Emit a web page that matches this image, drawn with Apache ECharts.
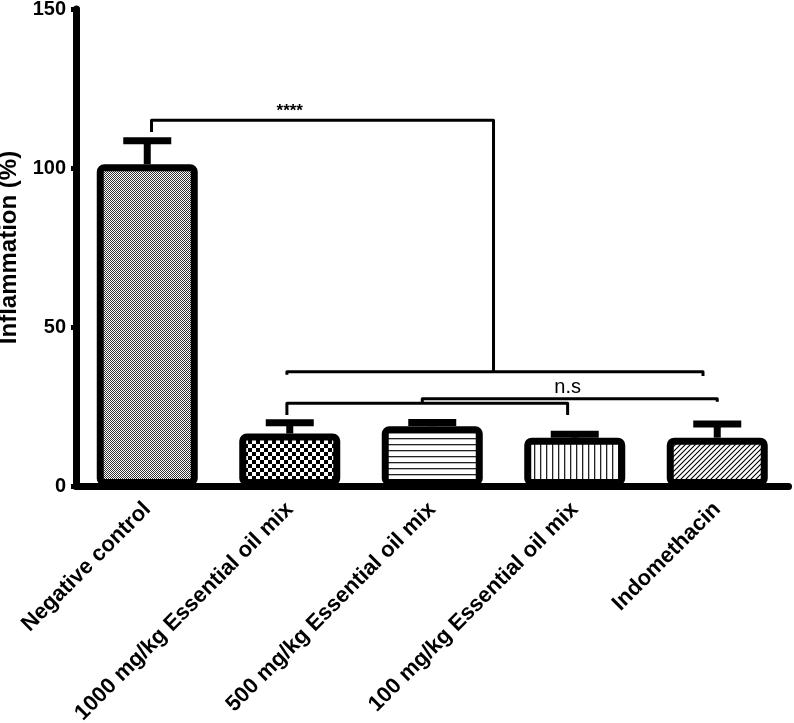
<!DOCTYPE html>
<html><head><meta charset="utf-8">
<script src="https://cdn.jsdelivr.net/npm/echarts@6/dist/echarts.min.js"></script>
<style>html,body{margin:0;padding:0;background:#fff}#c{width:794px;height:723px}</style>
</head><body><div id="c"></div>
<script>
// ---- data ----
const categories = ['Negative control', '1000 mg/kg Essential oil mix', '500 mg/kg Essential oil mix', '100 mg/kg Essential oil mix', 'Indomethacin'];
const values = [101.2, 16.5, 18.8, 15.2, 15.2];
const errors = [7.4, 3.4, 1.2, 1.1, 4.3];
const yTicks = [0, 50, 100, 150];
// significance brackets as polylines in (category index, value) space
const brackets = [
  [[0.03, 111.3], [0.03, 115], [2.43, 115], [2.43, 36]],
  [[0.98, 35], [0.98, 35.9], [3.9, 35.9], [3.9, 34.6]],
  [[0.98, 22.3], [0.98, 26], [2.95, 26], [2.95, 22.3]],
  [[1.93, 26], [1.93, 27.4], [4.0, 27.4], [4.0, 26.5]]
];
const bracketLabels = ['****', 'n.s'];
const bracketLabelPos = [[1.0, 117.8], [2.95, 31]];

// ---- patterns ----
function pat(w, h, draw) {
  const c = document.createElement('canvas'); c.width = w; c.height = h;
  const g = c.getContext('2d'); g.fillStyle = '#fff'; g.fillRect(0, 0, w, h);
  g.fillStyle = '#000'; g.strokeStyle = '#000'; draw(g);
  return { image: c, repeat: 'repeat' };
}
const patterns = [
  pat(2, 2, g => { g.fillStyle = '#333'; g.fillRect(0, 0, 1, 1); g.fillRect(1, 1, 1, 1); }),
  pat(8, 8, g => { g.fillRect(0, 0, 4, 4); g.fillRect(4, 4, 4, 4); }),
  pat(6, 6, g => { g.fillStyle = '#222'; g.fillRect(0, 0, 6, 1.3); }),
  pat(6, 6, g => { g.fillStyle = '#222'; g.fillRect(0, 0, 1.3, 6); }),
  pat(5, 5, g => { g.lineWidth = 1.1; g.beginPath(); g.moveTo(-1, 6); g.lineTo(6, -1); g.moveTo(-1, 1); g.lineTo(1, -1); g.moveTo(4, 6); g.lineTo(6, 4); g.stroke(); })
];

const FONT = '"Liberation Sans", Arial, Helvetica, sans-serif';
const chart = echarts.init(document.getElementById('c'));
chart.setOption({
  animation: false,
  backgroundColor: '#fff',
  grid: { left: 76, right: 5.5, top: 9, bottom: 237, containLabel: false, outerBoundsMode: 'none' },
  xAxis: [{
    type: 'category', data: categories,
    axisLine: { lineStyle: { color: '#000', width: 7 } },
    axisTick: { alignWithLabel: true, length: 6, lineStyle: { color: '#000', width: 5 } },
    axisLabel: { rotate: 45, margin: 20, color: '#000', fontFamily: FONT, fontWeight: 'bold', fontSize: 22, interval: 0 }
  }, {
    type: 'value', min: -0.5, max: 4.5, show: false
  }],
  yAxis: {
    type: 'value', min: yTicks[0], max: yTicks[yTicks.length - 1], interval: 50,
    name: 'Inflammation (%)', nameLocation: 'middle', nameGap: 53,
    nameTextStyle: { color: '#000', fontFamily: FONT, fontWeight: 'bold', fontSize: 24 },
    axisLine: { show: true, onZero: false, lineStyle: { color: '#000', width: 7 } },
    axisTick: { show: true, length: 5, lineStyle: { color: '#000', width: 5 } },
    splitLine: { show: false },
    axisLabel: { margin: 10, color: '#000', fontFamily: FONT, fontWeight: 'bold', fontSize: 20 }
  },
  series: [{
    type: 'bar', barWidth: 101, z: 3,
    data: values.map((v, i) => ({ value: v, itemStyle: { color: patterns[i], borderColor: '#000', borderWidth: 7, borderRadius: 4 } }))
  }, {
    type: 'custom', z: 4,
    data: values.map((v, i) => [i, v, v + errors[i]]),
    renderItem: (params, api) => {
      const p0 = api.coord([api.value(0), api.value(1)]);
      const p1 = api.coord([api.value(0), api.value(2)]);
      return { type: 'group', children: [
        { type: 'line', shape: { x1: p0[0], y1: p0[1], x2: p1[0], y2: p1[1] }, style: { stroke: '#000', lineWidth: 7 } },
        { type: 'rect', shape: { x: p1[0] - 24, y: p1[1] - 3.5, width: 48, height: 7 }, style: { fill: '#000' } }
      ] };
    }
  }, {
    type: 'custom', xAxisIndex: 1, z: 5,
    data: brackets.map(b => b[0]),
    renderItem: (params, api) => {
      const pts = brackets[params.dataIndex].map(p => api.coord(p));
      return { type: 'polyline', shape: { points: pts }, style: { stroke: '#000', lineWidth: 3, fill: null, lineJoin: 'round' } };
    }
  }, {
    type: 'custom', xAxisIndex: 1, z: 5,
    data: bracketLabelPos,
    renderItem: (params, api) => {
      const p = api.coord([api.value(0), api.value(1)]);
      const i = params.dataIndex;
      return { type: 'text', style: { text: bracketLabels[i], x: p[0], y: p[1], align: 'center', verticalAlign: 'middle', fill: '#000',
        font: (i === 0 ? 'bold 17px ' : '20px ') + FONT } };
    }
  }]
});
</script></body></html>
